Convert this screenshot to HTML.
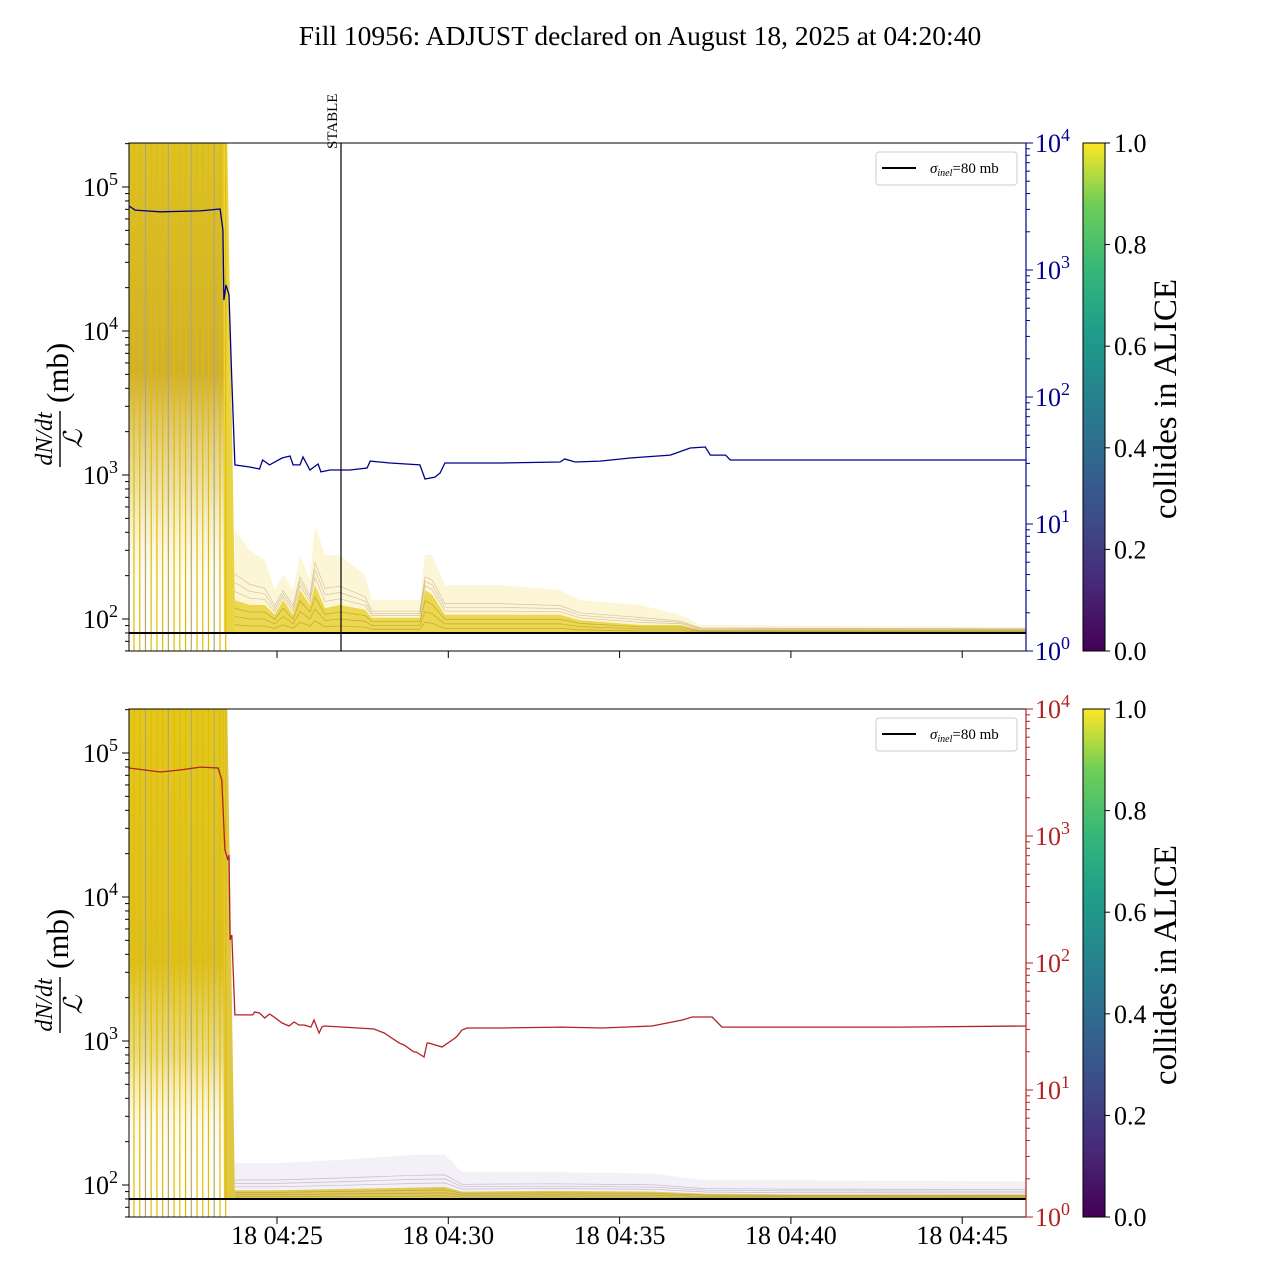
<!DOCTYPE html>
<html><head><meta charset="utf-8"><style>
body{margin:0;background:#fff}
svg{display:block;font-family:"Liberation Serif",serif}
</style></head><body>
<svg id="c" width="1280" height="1280" viewBox="0 0 1280 1280">
<defs>
<linearGradient id="vir" x1="0" y1="1" x2="0" y2="0">
<stop offset="0" stop-color="#440154"/><stop offset="0.13" stop-color="#482878"/><stop offset="0.25" stop-color="#3e4989"/><stop offset="0.38" stop-color="#31688e"/><stop offset="0.5" stop-color="#26828e"/><stop offset="0.63" stop-color="#1f9e89"/><stop offset="0.75" stop-color="#35b779"/><stop offset="0.88" stop-color="#6ece58"/><stop offset="1" stop-color="#fde725"/>
</linearGradient>
<linearGradient id="preT" x1="0" y1="0" x2="0" y2="1">
<stop offset="0" stop-color="#dcc228"/><stop offset="0.45" stop-color="#cfb030"/><stop offset="0.68" stop-color="#e4d484" stop-opacity="0.7"/><stop offset="0.85" stop-color="#f5ecb0" stop-opacity="0.15"/><stop offset="1" stop-color="#fff" stop-opacity="0"/>
</linearGradient>
<linearGradient id="preB" x1="0" y1="0" x2="0" y2="1">
<stop offset="0" stop-color="#e2c81c"/><stop offset="0.5" stop-color="#dcc022"/><stop offset="0.68" stop-color="#e0cc50" stop-opacity="0.7"/><stop offset="0.82" stop-color="#f0e090" stop-opacity="0.15"/><stop offset="1" stop-color="#fff" stop-opacity="0"/>
</linearGradient>
<clipPath id="clipT"><rect x="129" y="143" width="897" height="508"/></clipPath>
<clipPath id="clipB"><rect x="129" y="709" width="897" height="508"/></clipPath>
</defs>
<text x="640" y="45" font-size="27.5" text-anchor="middle">Fill 10956: ADJUST declared on August 18, 2025 at 04:20:40</text>
<g id="gT" clip-path="url(#clipT)"></g>
<g id="gB" clip-path="url(#clipB)"></g>
<g id="axes"></g>
</svg>
<script>
// ---- data ----
const tickLabelsX = ["18 04:25","18 04:30","18 04:35","18 04:40","18 04:45"];
const tickMinutesX = [5,10,15,20,25];
const cbTicks = [0.0,0.2,0.4,0.6,0.8,1.0];
// blue series (top panel, right axis): minutes after 04:20 and values
const blueT = [0.68,0.86,1.59,2.76,3.34,3.42,3.45,3.51,3.60,3.68,3.77,4.20,4.49,4.58,4.78,5.15,5.38,5.47,5.67,5.76,5.96,6.20,6.28,6.55,7.13,7.63,7.72,8.30,9.17,9.32,9.61,9.76,9.90,11.51,13.26,13.40,13.70,14.43,15.31,16.48,17.06,17.50,17.65,18.09,18.23,20.27,23.19,26.87];
const blueV = [3190,2965,2870,2920,3020,2065,580,762,635,136,29.2,28.1,27.1,31.9,29.2,33.1,34.3,29.2,29.2,33.7,26.6,29.7,25.7,26.6,26.6,27.6,31.3,30.2,29.2,22.6,23.4,25.2,30.2,30.2,30.8,32.5,30.8,31.3,33.1,34.9,39.7,40.4,34.9,34.9,31.9,31.9,31.9,31.9];
// red series (bottom panel, right axis)
const redT = [0.68,1.59,2.17,2.76,3.28,3.39,3.48,3.57,3.60,3.63,3.68,3.77,4.29,4.35,4.49,4.64,4.78,4.87,5.15,5.35,5.50,5.64,5.79,5.99,6.08,6.23,6.31,6.37,6.95,7.83,8.13,8.57,8.71,9.00,9.06,9.29,9.38,9.44,9.82,10.20,10.26,10.40,10.55,11.57,13.32,14.49,15.95,16.83,17.12,17.70,17.99,18.28,23.19,26.87];
const redV = [3430,3190,3310,3490,3430,2760,776,647,708,152,166,39,39,41.1,40.4,36.9,39.7,38.3,33.7,31.9,34.3,32.5,32.5,31.3,35.6,28.1,31.3,31.9,31.3,30.2,28.1,23.4,22.6,19.9,19.9,18.2,23.4,23.4,21.8,25.7,26.6,29.7,30.8,30.8,31.3,30.8,31.9,35.6,37.6,37.6,31.3,31.3,31.3,31.9];
// top panel bunch envelopes after the dump (mb)
const envT = [3.77,4.20,4.64,4.93,5.18,5.47,5.67,5.96,6.11,6.40,6.84,7.57,7.77,9.17,9.32,9.53,9.90,11.51,13.26,13.84,15.60,16.77,17.36,26.87];
const envTopFaint = [415,301,257,159,202,159,278,187,450,278,278,202,135,135,278,278,172,172,159,135,125,107,91,88];
const envTopCore  = [135,125,125,107,135,107,159,125,172,119,125,116,102,102,159,147,107,107,107,98,91,91,84,84];
// bottom panel envelopes
const envBT = [3.77,5.00,7.00,9.00,9.90,10.40,13.00,16.00,17.50,20.00,26.87];
const envBotFaint = [142,142,150,162,162,123,123,120,108,108,106];
const envBotCore  = [92,92,94,96,97,90,91,90,87,86,86];
const sigmaInel = 80;
// ---- scales ----
const X = t => 277 + (t-5)*34.26;
const YL = (v,off) => 475 + off - (Math.log10(v)-3)*144;
const YR = (v,off) => 651 + off - Math.log10(v)*127;
const NS="http://www.w3.org/2000/svg";
function mk(parent,tag,attrs,name,txt){const e=document.createElementNS(NS,tag);for(const k in attrs)e.setAttribute(k,attrs[k]);


if(txt!==undefined)e.textContent=txt;parent.appendChild(e);return e;}
const gT=document.getElementById('gT'),gB=document.getElementById('gB'),ax=document.getElementById('axes');
function poly(ts,vs,f){return ts.map((t,i)=>(i?'L':'M')+X(t).toFixed(1)+','+f(vs[i]).toFixed(1)).join('');}
function bunch(g,off,ts,faint,core,preGrad,faintCol,coreCol,lineCol,faintOp){
  mk(g,'rect',{x:129,y:143+off,width:X(3.45)-129,height:508,fill:`url(#${preGrad})`},'bunch-block-before-dump');
  mk(g,'path',{d:`M${X(3.42)},${143+off}L${X(3.55)},${143+off}L${X(3.77)},${YL(core[0],off)}L${X(3.77)},${YL(sigmaInel,off)}L${X(3.45)},${YL(sigmaInel,off)}Z`,fill:coreCol,opacity:0.85},'bunch-drop');
  const base=YL(sigmaInel,off);
  const fp=poly(ts,faint,v=>YL(v,off))+`L${X(ts[ts.length-1])},${base}L${X(ts[0])},${base}Z`;
  mk(g,'path',{d:fp,fill:faintCol,opacity:faintOp},'bunch-envelope-faint');
  const cp=poly(ts,core,v=>YL(v,off))+`L${X(ts[ts.length-1])},${base}L${X(ts[0])},${base}Z`;
  mk(g,'path',{d:cp,fill:coreCol,opacity:0.75},'bunch-envelope-core');
  for(const fr of [0.25,0.5,0.75]){
    const vs=core.map((c,i)=>Math.pow(faint[i],fr*0.5)*Math.pow(c,1-fr*0.5));
    mk(g,'path',{d:poly(ts,vs,v=>YL(v,off)),fill:'none',stroke:lineCol,'stroke-width':0.7,opacity:0.4},'bunch-line');
    const vs2=core.map(c=>Math.pow(c,fr)*Math.pow(sigmaInel,1-fr));
    mk(g,'path',{d:poly(ts,vs2,v=>YL(v,off)),fill:'none',stroke:'#8a7a3a','stroke-width':0.8,opacity:0.45},'bunch-line');
  }
  for(let i=0;i<17;i++){const x=134+i*5.73;
    mk(g,'line',{x1:x,x2:x,y1:143+off,y2:651+off,stroke:(i%4===2)?'#b8a868':'#e2bc00','stroke-width':1.2},'bunch-vertical-line');}
  mk(g,'line',{x1:129,x2:1026,y1:base,y2:base,stroke:'#000','stroke-width':2},'sigma-inel-line');
}
bunch(gT,0,envT,envTopFaint,envTopCore,'preT','#f5e27a','#e8cc20','#9a7a50',0.3);
bunch(gB,566,envBT,envBotFaint,envBotCore,'preB','#d8cce6','#d9bd20','#806890',0.3);
mk(gT,'path',{d:poly(blueT,blueV,v=>YR(v,0)),fill:'none',stroke:'#00008b','stroke-width':1.3},'blue-luminosity-line');
mk(gB,'path',{d:poly(redT,redV,v=>YR(v,566)),fill:'none',stroke:'#b22222','stroke-width':1.3},'red-luminosity-line');
mk(ax,'line',{x1:341,x2:341,y1:143,y2:651,stroke:'#000','stroke-width':1.2},'stable-line');
mk(ax,'text',{x:0,y:0,'font-size':15,transform:'translate(337,149) rotate(-90)'},'stable-label','STABLE');
function panel(off,rcol,name){
  mk(ax,'rect',{x:129,y:143+off,width:897,height:508,fill:'none',stroke:'#000','stroke-width':1},name+'-frame');
  mk(ax,'line',{x1:1026,x2:1026,y1:143+off,y2:651+off,stroke:rcol,'stroke-width':1.2},name+'-right-spine');
  for(let e=1;e<=5;e++){for(let m=1;m<10;m++){const v=m*Math.pow(10,e);const y=YL(v,off);if(y<143+off||y>651+off)continue;
    mk(ax,'line',{x1:129,x2:m===1?122:125,y1:y,y2:y,stroke:'#000','stroke-width':1},name+'-left-tick');
    if(m===1)mk(ax,'text',{x:118,y:y+9,'font-size':26,'text-anchor':'end'},name+'-left-tick-label','10').appendChild(sup(e));}}
  for(let e=0;e<=4;e++){for(let m=1;m<10;m++){const v=m*Math.pow(10,e);const y=YR(v,off);if(y<143+off-0.5||y>651+off+0.5)continue;
    mk(ax,'line',{x1:1026,x2:m===1?1033:1030,y1:y,y2:y,stroke:rcol,'stroke-width':1},name+'-right-tick');
    if(m===1)mk(ax,'text',{x:1035,y:y+9,'font-size':26,fill:rcol},name+'-right-tick-label','10').appendChild(sup(e));}}
  tickMinutesX.forEach((t,i)=>{mk(ax,'line',{x1:X(t),x2:X(t),y1:651+off,y2:658+off,stroke:'#000'},name+'-x-tick');});
  const g=mk(ax,'g',{transform:`translate(62,${397+off}) rotate(-90)`},name+'-y-axis-title');
  mk(g,'text',{x:-42,y:-10,'font-size':24,'font-style':'italic','text-anchor':'middle'},'y-title-numerator','dN/dt');
  mk(g,'line',{x1:-70,x2:-14,y1:-2,y2:-2,stroke:'#000','stroke-width':1.4},'y-title-fraction-bar');
  mk(g,'text',{x:-42,y:20,'font-size':26,'font-style':'italic','text-anchor':'middle'},'y-title-denominator','ℒ');
  mk(g,'text',{x:-6,y:6,'font-size':31},'y-title-unit','(mb)');
  mk(ax,'rect',{x:876,y:152+off,width:141,height:33,rx:3,fill:'#fff',stroke:'#ccc'},name+'-legend-box');
  mk(ax,'line',{x1:882,x2:916,y1:168+off,y2:168+off,stroke:'#000','stroke-width':2},name+'-legend-line');
  const t=mk(ax,'text',{x:930,y:173+off,'font-size':15},name+'-legend-label');
  const s1=document.createElementNS(NS,'tspan');s1.setAttribute('font-style','italic');s1.textContent='σ';t.appendChild(s1);
  const s2=document.createElementNS(NS,'tspan');s2.setAttribute('font-style','italic');s2.setAttribute('font-size','10');s2.setAttribute('dy','3');s2.textContent='inel';t.appendChild(s2);
  const s3=document.createElementNS(NS,'tspan');s3.setAttribute('dy','-3');s3.textContent='=80 mb';t.appendChild(s3);
  mk(ax,'rect',{x:1083,y:143+off,width:22,height:508,fill:'url(#vir)',stroke:'#000','stroke-width':1},name+'-colorbar');
  cbTicks.forEach(v=>{const y=651+off-v*508;
    mk(ax,'line',{x1:1105,x2:1110,y1:y,y2:y,stroke:'#000'},name+'-colorbar-tick');
    mk(ax,'text',{x:1114,y:y+9,'font-size':26},name+'-colorbar-tick-label',v.toFixed(1));});
  mk(ax,'text',{x:0,y:0,'font-size':33,'text-anchor':'middle',transform:`translate(1176,${399+off}) rotate(-90)`},name+'-colorbar-title','collides in ALICE');
}
function sup(e){const s=document.createElementNS(NS,'tspan');s.setAttribute('dy','-11');s.setAttribute('font-size','18');s.textContent=String(e);return s;}
panel(0,'#00008b','top-panel');
panel(566,'#b22222','bottom-panel');
tickMinutesX.forEach((t,i)=>{mk(ax,'text',{x:X(t),y:1244,'font-size':26,'text-anchor':'middle'},'x-tick-label',tickLabelsX[i]);});
</script>
</body></html>
